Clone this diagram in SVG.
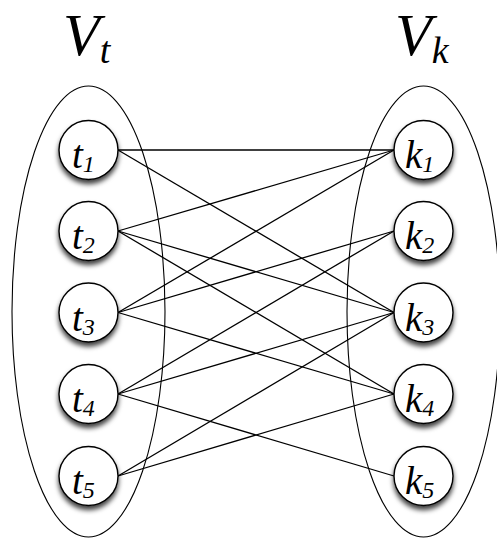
<svg xmlns="http://www.w3.org/2000/svg" width="497" height="538" viewBox="0 0 497 538">
<style>
.set{fill:none;stroke:#000;stroke-width:1.1}
.node{fill:#fff;stroke:#000;stroke-width:1.4;filter:url(#sh)}
.edge{stroke:#000;stroke-width:1.3;fill:none}
.lbl{font-family:'Liberation Serif','Times New Roman','DejaVu Serif',serif;font-style:italic;fill:#000}
.big{font-size:60px}
.bsub{font-size:38px}
.nl{font-size:39px}
.ns{font-size:24px}
</style>
<defs>
<filter id="sh" x="-30%" y="-30%" width="160%" height="170%">
<feDropShadow dx="0" dy="4" stdDeviation="2.5" flood-color="#000" flood-opacity="0.75"/>
</filter>
</defs>
<g id="Vt">
<ellipse class="set" cx="88.5" cy="311.5" rx="76.5" ry="225.5"/>
<text class="lbl" x="63" y="55"><tspan class="big">V</tspan><tspan class="bsub" dy="8">t</tspan></text>
</g>
<g id="Vk">
<ellipse class="set" cx="423.5" cy="311.5" rx="76.5" ry="225.5"/>
<text class="lbl" x="395" y="55"><tspan class="big">V</tspan><tspan class="bsub" dy="8">k</tspan></text>
</g>
<g id="edges">
<line class="edge" x1="118" y1="150" x2="394" y2="150"/>
<line class="edge" x1="118" y1="150" x2="394" y2="312.5"/>
<line class="edge" x1="118" y1="231" x2="394" y2="150"/>
<line class="edge" x1="118" y1="231" x2="394" y2="312.5"/>
<line class="edge" x1="118" y1="231" x2="394" y2="394"/>
<line class="edge" x1="118" y1="312.5" x2="394" y2="150"/>
<line class="edge" x1="118" y1="312.5" x2="394" y2="231"/>
<line class="edge" x1="118" y1="312.5" x2="394" y2="394"/>
<line class="edge" x1="118" y1="394" x2="394" y2="231"/>
<line class="edge" x1="118" y1="394" x2="394" y2="312.5"/>
<line class="edge" x1="118" y1="394" x2="394" y2="476"/>
<line class="edge" x1="118" y1="476" x2="394" y2="312.5"/>
<line class="edge" x1="118" y1="476" x2="394" y2="394"/>
</g>
<g id="t1"><circle class="node" cx="88.5" cy="150" r="29.5"/><text class="lbl" x="72" y="168"><tspan class="nl">t</tspan><tspan class="ns" dy="4">1</tspan></text></g>
<g id="t2"><circle class="node" cx="88.5" cy="231" r="29.5"/><text class="lbl" x="72" y="249"><tspan class="nl">t</tspan><tspan class="ns" dy="4">2</tspan></text></g>
<g id="t3"><circle class="node" cx="88.5" cy="312.5" r="29.5"/><text class="lbl" x="72" y="330.5"><tspan class="nl">t</tspan><tspan class="ns" dy="4">3</tspan></text></g>
<g id="t4"><circle class="node" cx="88.5" cy="394" r="29.5"/><text class="lbl" x="72" y="412"><tspan class="nl">t</tspan><tspan class="ns" dy="4">4</tspan></text></g>
<g id="t5"><circle class="node" cx="88.5" cy="476" r="29.5"/><text class="lbl" x="72" y="494"><tspan class="nl">t</tspan><tspan class="ns" dy="4">5</tspan></text></g>
<g id="k1"><circle class="node" cx="423.5" cy="150" r="29.5"/><text class="lbl" x="405" y="168"><tspan class="nl">k</tspan><tspan class="ns" dy="4">1</tspan></text></g>
<g id="k2"><circle class="node" cx="423.5" cy="231" r="29.5"/><text class="lbl" x="405" y="249"><tspan class="nl">k</tspan><tspan class="ns" dy="4">2</tspan></text></g>
<g id="k3"><circle class="node" cx="423.5" cy="312.5" r="29.5"/><text class="lbl" x="405" y="330.5"><tspan class="nl">k</tspan><tspan class="ns" dy="4">3</tspan></text></g>
<g id="k4"><circle class="node" cx="423.5" cy="394" r="29.5"/><text class="lbl" x="405" y="412"><tspan class="nl">k</tspan><tspan class="ns" dy="4">4</tspan></text></g>
<g id="k5"><circle class="node" cx="423.5" cy="476" r="29.5"/><text class="lbl" x="405" y="494"><tspan class="nl">k</tspan><tspan class="ns" dy="4">5</tspan></text></g>
</svg>
